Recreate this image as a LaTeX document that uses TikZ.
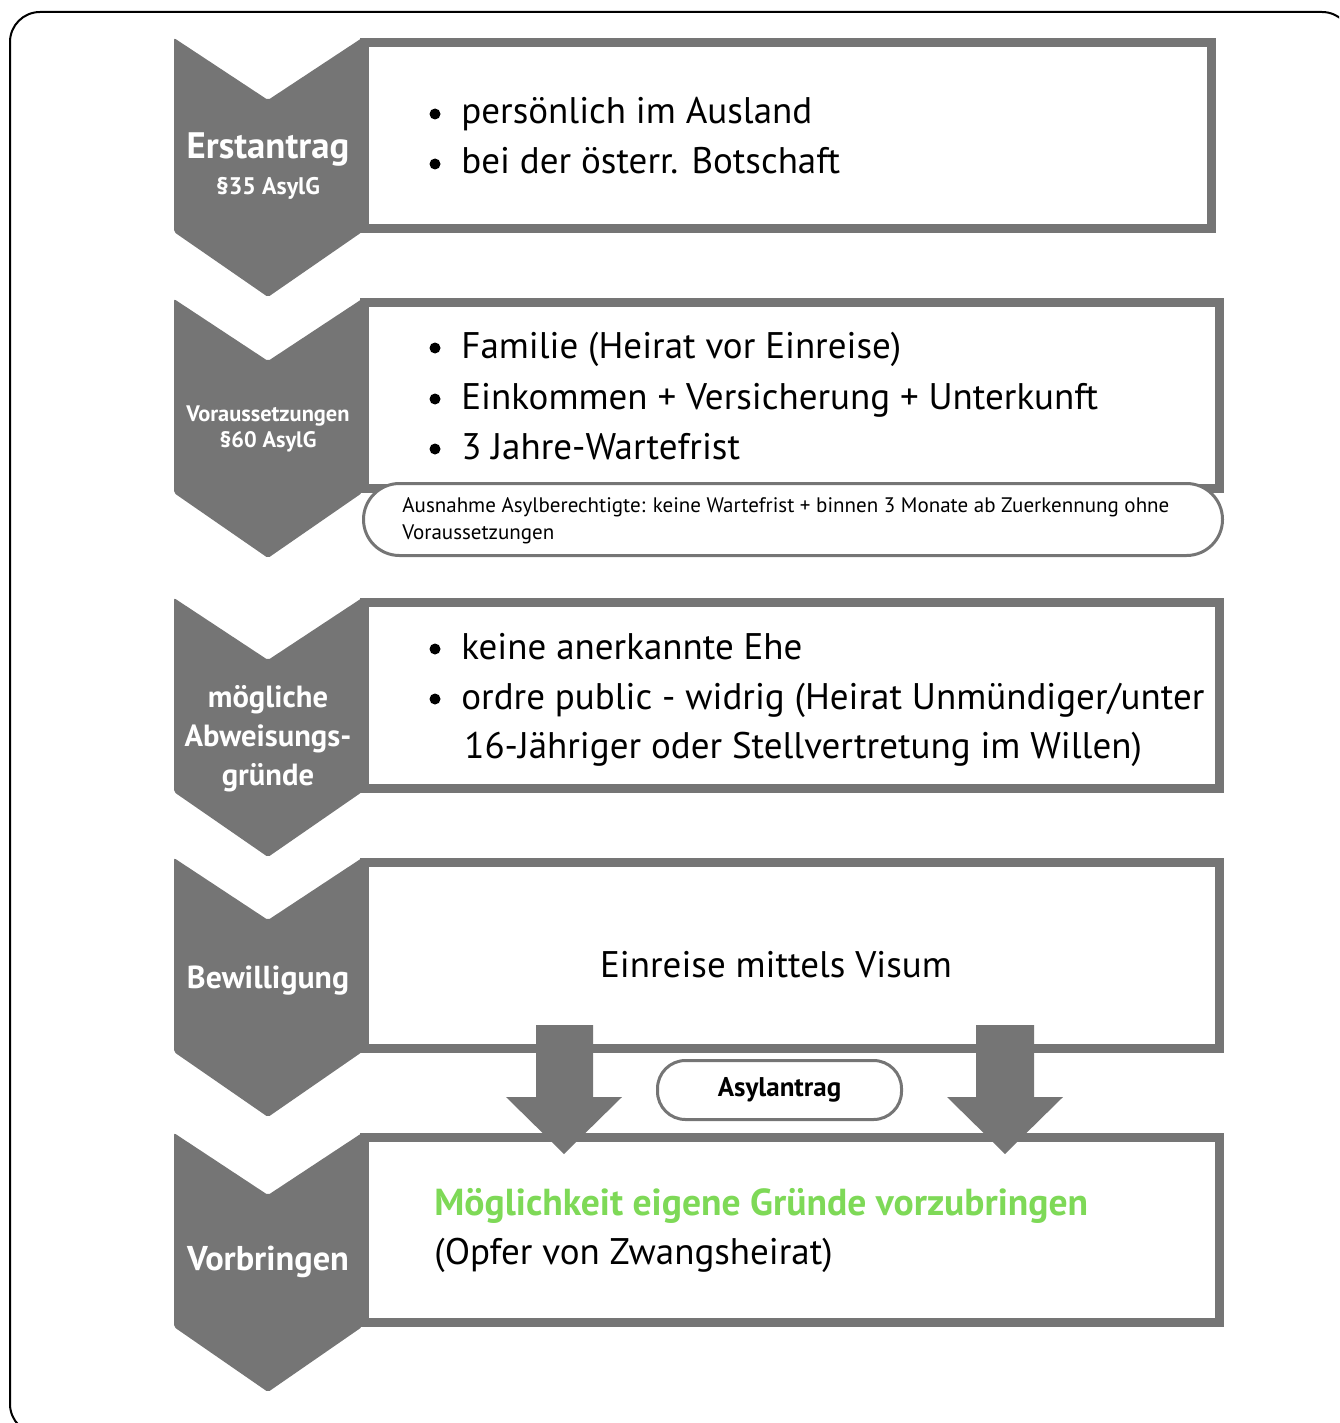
\documentclass[tikz,border=0pt]{standalone}
\usepackage{fontspec}
\setmainfont{PT Sans}
\usetikzlibrary{calc}

\definecolor{stepgray}{RGB}{117,117,117}
\definecolor{hintgreen}{RGB}{126,217,87}

\begin{document}
\begin{tikzpicture}[x=0.5pt, y=-0.5pt,
    chevron/.style={fill=stepgray, rounded corners=1pt},
    box/.style={draw=stepgray, line width=4.5pt, fill=white},
    steplabel/.style={text=white, align=center, inner sep=0pt},
    item/.style={anchor=base west, inner sep=0pt, font=\fontsize{18.5}{20}\selectfont},
    pill/.style={draw=stepgray, line width=1.5pt, fill=white},
    blockarrow/.style={fill=stepgray}]
    \useasboundingbox (0,0) rectangle (1339,1423);
    \clip (0,0) rectangle (1339,1423);
    \draw[line width=1pt, rounded corners=15pt] (10,12) rectangle (1352,1434);

    % chevrons on the left
    \foreach \t in {38,299,598,858,1133}
        \fill[chevron] (174,\t) -- (268,\t+62) -- (362,\t) -- (362,\t+194) -- (268,\t+259) -- (174,\t+194) -- cycle;

    % boxes
    \draw[box] (364.5,42.5) rectangle (1211.5,228.5);
    \foreach \t/\b in {302.5/488.5, 602.5/788.5, 862.5/1048.5, 1137.5/1322.5}
        \draw[box] (364.5,\t) rectangle (1219.5,\b);

    % labels of the steps
    \node[steplabel, font=\bfseries\fontsize{18.4}{20}\selectfont] (erst) at (268,150) {Erstantrag};
    \node[steplabel, font=\bfseries\fontsize{12}{14}\selectfont] (erstpar) at (268,188) {§35 AsylG};
    \node[steplabel, font=\bfseries\fontsize{11.2}{13}\selectfont] (vor) at (268,416) {Voraussetzungen};
    \node[steplabel, font=\bfseries\fontsize{11.2}{13}\selectfont] (vorpar) at (268,442) {§60 AsylG};
    \node[steplabel, font=\bfseries\fontsize{15.3}{19.5}\selectfont] (abw) at (268,739) {mögliche\\Abweisungs-\\gründe};
    \node[steplabel, font=\bfseries\fontsize{15.9}{18}\selectfont] (bew) at (268,981) {Bewilligung};
    \node[steplabel, font=\bfseries\fontsize{17.2}{19}\selectfont] (vorb) at (268,1262) {Vorbringen};

    % bullet lists
    \foreach \y/\txt [count=\i] in {112/persönlich im Ausland, 162/bei der österr. Botschaft,
        346/Familie (Heirat vor Einreise), 397/Einkommen + Versicherung + Unterkunft, 447/3 Jahre-Wartefrist,
        647/keine anerkannte Ehe, 697/{ordre public - widrig (Heirat Unmündiger/unter}} {
        \fill (435,\y+2) circle (5.5);
        \node[item] (item\i) at (461,\y+12) {\txt};
    }
    \node[item] (item8) at (464,758) {16-Jähriger oder Stellvertretung im Willen)};

    \node[font=\fontsize{18.5}{20}\selectfont] (visum) at (776,965) {Einreise mittels Visum};

    \node[item, text=hintgreen, font=\bfseries\fontsize{18.8}{20}\selectfont] (chance) at (434,1215) {Möglichkeit eigene Gründe vorzubringen};
    \node[item] (opfer) at (434,1264) {(Opfer von Zwangsheirat)};

    % exception note
    \node[pill, minimum width=429.5pt, minimum height=36pt, rounded corners=18pt] (ausnahme) at (793,519.5) {};
    \node[anchor=west, align=left, inner sep=0pt, font=\fontsize{10.5}{13.5}\selectfont] (ausnahmetext) at (402,521)
        {Ausnahme Asylberechtigte: keine Wartefrist + binnen 3 Monate ab Zuerkennung ohne\\Voraussetzungen};

    % arrows into the last box
    \fill[blockarrow] (536,1025) -- (593,1025) -- (593,1097) -- (622,1097) -- (564,1154) -- (506,1097) -- (536,1097) -- cycle;
    \fill[blockarrow] (976,1025) -- (1034,1025) -- (1034,1097) -- (1063,1097) -- (1005,1154) -- (947,1097) -- (976,1097) -- cycle;

    \node[pill, minimum width=122pt, minimum height=29.5pt, rounded corners=14pt, font=\bfseries\fontsize{13.5}{15}\selectfont] (asyl) at (779.5,1090) {Asylantrag};
\end{tikzpicture}
\end{document}
